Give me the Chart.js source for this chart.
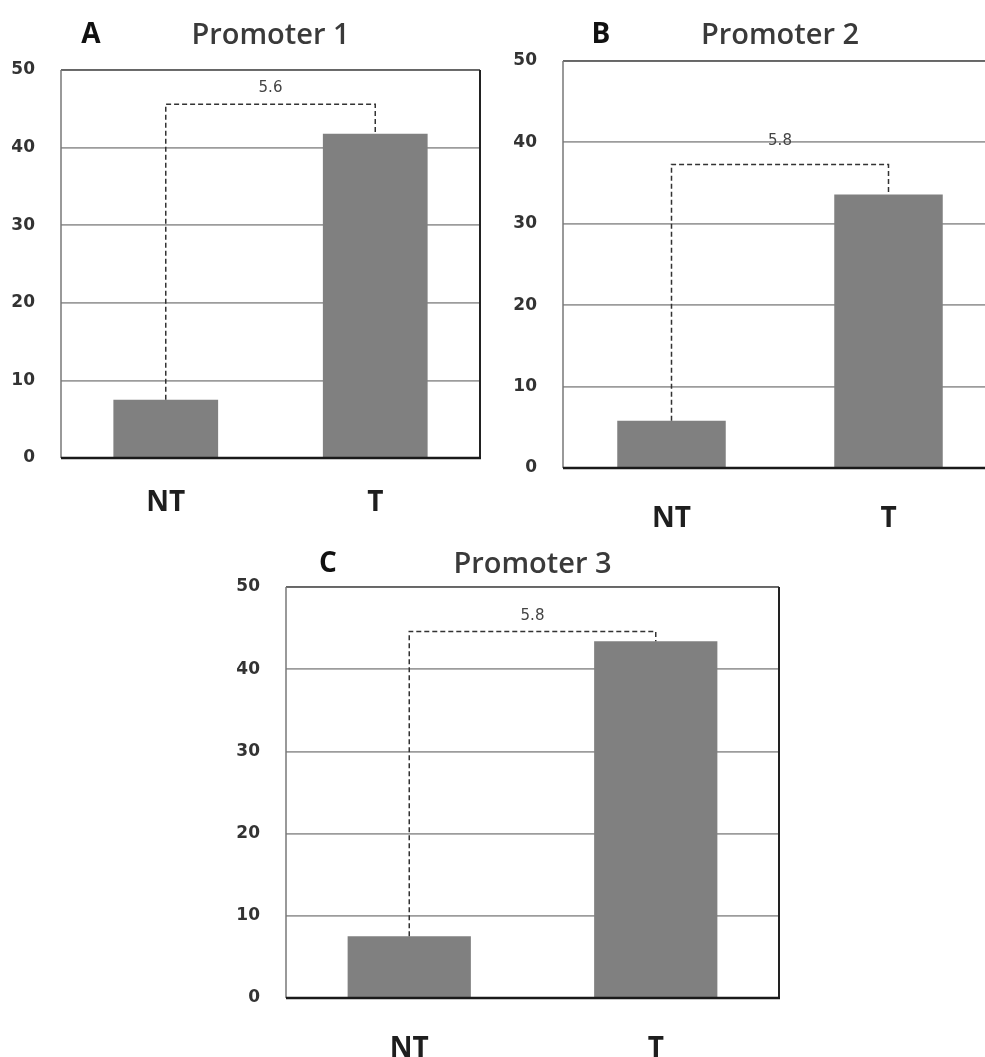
<!DOCTYPE html>
<html><head><meta charset="utf-8">
<script src="https://cdn.jsdelivr.net/npm/chart.js@4.4.1/dist/chart.umd.min.js"></script>
<style>
html,body{margin:0;padding:0;background:#fff;overflow:hidden;width:985px;height:1057px;position:relative}
.box{position:absolute}
.lbl{position:absolute;font-family:"Open Sans",sans-serif;transform:translate(-50%,-50%);white-space:nowrap;line-height:1}
.ttl{font-size:29px;font-weight:600;color:#3a3a3a}
.let{font-size:28px;font-weight:700;color:#111}
</style></head><body>
<div class="box" id="pA"><canvas id="cA"></canvas></div>
<div class="box" id="pB"><canvas id="cB"></canvas></div>
<div class="box" id="pC"><canvas id="cC"></canvas></div>
<script>
// ---- data ----
const categories = ['NT', 'T'];
const promoter1 = [7.5, 41.8];
const promoter2 = [5.8, 33.6];
const promoter3 = [7.5, 43.4];
const yTicks = [0, 10, 20, 30, 40, 50];
const titles = ['Promoter 1', 'Promoter 2', 'Promoter 3'];
const panelLetters = ['A', 'B', 'C'];
const foldChanges = ['5.6', '5.8', '5.8'];
const bracketLevels = [45.6, 37.3, 44.6];
const foldLabelLevels = [47.7, 40.2, 46.4];

// ---- layout (styling) ----
const panels = [
  {id:'A', values: promoter1, left:0,   top:0,   w:500, h:530, yw:61, pt:70, pr:20, xh:72, xpad:28, titleY:32,  letterDx:30},
  {id:'B', values: promoter2, left:502, top:0,   w:500, h:540, yw:61, pt:61, pr:5,  xh:72, xpad:34, titleY:32,  letterDx:38},
  {id:'C', values: promoter3, left:225, top:520, w:570, h:560, yw:61, pt:67, pr:16, xh:82, xpad:34, titleY:561, letterDx:42}
];

const decor = {
  id: 'decor',
  afterDatasetsDraw(chart, args, o) {
    const {ctx, chartArea: a, scales: {x, y}} = chart;
    const d = chart.data.datasets[0].data;
    ctx.save();
    const x0 = x.getPixelForValue(0), x1 = x.getPixelForValue(1);
    const yb = y.getPixelForValue(o.level);
    ctx.setLineDash([5, 3]);
    ctx.lineWidth = 1.5;
    ctx.strokeStyle = '#333';
    ctx.beginPath();
    ctx.moveTo(x0, y.getPixelForValue(d[0]));
    ctx.lineTo(x0, yb);
    ctx.lineTo(x1, yb);
    ctx.lineTo(x1, y.getPixelForValue(d[1]));
    ctx.stroke();
    ctx.setLineDash([]);
    ctx.fillStyle = '#444';
    ctx.font = '15px "DejaVu Sans"';
    ctx.textAlign = 'center';
    ctx.textBaseline = 'middle';
    ctx.fillText(o.label, (x0 + x1) / 2, y.getPixelForValue(o.labelLevel));
    // frame
    ctx.lineWidth = 1.5;
    ctx.strokeStyle = '#555';
    ctx.beginPath(); ctx.moveTo(a.left, a.top); ctx.lineTo(a.right, a.top); ctx.stroke();
    ctx.strokeStyle = '#777';
    ctx.beginPath(); ctx.moveTo(a.left, a.top); ctx.lineTo(a.left, a.bottom); ctx.stroke();
    ctx.lineWidth = 2;
    ctx.strokeStyle = '#222';
    ctx.beginPath(); ctx.moveTo(a.right, a.top); ctx.lineTo(a.right, a.bottom); ctx.stroke();
    ctx.lineWidth = 2.5;
    ctx.strokeStyle = '#1a1a1a';
    ctx.beginPath(); ctx.moveTo(a.left, a.bottom); ctx.lineTo(a.right + 1, a.bottom); ctx.stroke();
    ctx.restore();
  }
};

panels.forEach((p, i) => {
  const box = document.getElementById('p' + p.id);
  box.style.left = p.left + 'px'; box.style.top = p.top + 'px';
  box.style.width = p.w + 'px'; box.style.height = p.h + 'px';
  const chart = new Chart(document.getElementById('c' + p.id), {
    type: 'bar',
    data: {
      labels: categories,
      datasets: [{data: p.values, backgroundColor: '#808080', borderWidth: 0,
                  barPercentage: 1, categoryPercentage: 0.5}]
    },
    options: {
      responsive: true, maintainAspectRatio: false, animation: false,
      layout: {padding: {top: p.pt, right: p.pr, left: 0, bottom: 0}},
      plugins: {
        legend: {display: false}, tooltip: {enabled: false}, title: {display: false},
        decor: {level: bracketLevels[i], label: foldChanges[i], labelLevel: foldLabelLevels[i]}
      },
      scales: {
        x: {
          grid: {display: false, drawTicks: false},
          border: {display: false},
          ticks: {padding: p.xpad, color: '#1e1e1e', font: {family: '"Open Sans"', size: 28, weight: 'bold'}},
          afterFit: s => { s.height = p.xh; }
        },
        y: {
          min: yTicks[0], max: yTicks[yTicks.length - 1],
          afterBuildTicks: s => { s.ticks = yTicks.map(v => ({value: v})); },
          grid: {color: '#9c9c9c', lineWidth: 1.8, drawTicks: false, tickLength: 0},
          border: {display: false},
          ticks: {padding: 26, color: '#333', font: {family: '"DejaVu Sans"', size: 17, weight: 'bold'}},
          afterFit: s => { s.width = p.yw; }
        }
      }
    },
    plugins: [decor]
  });
  const a = chart.chartArea;
  const t = document.createElement('div');
  t.className = 'lbl ttl'; t.textContent = titles[i];
  t.style.left = (p.left + (a.left + a.right) / 2) + 'px';
  t.style.top = p.titleY + 'px';
  document.body.appendChild(t);
  const l = document.createElement('div');
  l.className = 'lbl let'; l.textContent = panelLetters[i];
  l.style.left = (p.left + a.left + p.letterDx) + 'px';
  l.style.top = p.titleY + 'px';
  document.body.appendChild(l);
});
</script>
</body></html>
